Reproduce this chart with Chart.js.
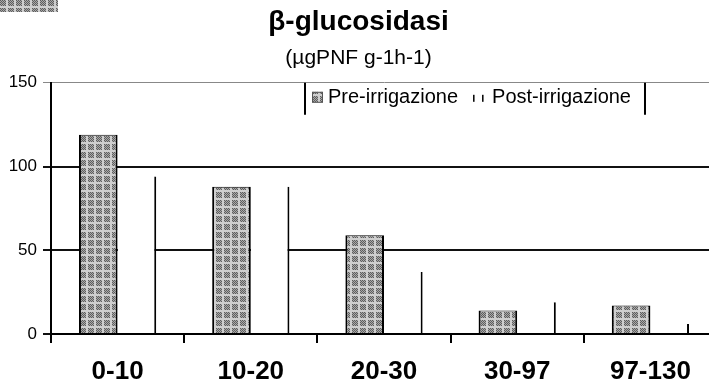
<!DOCTYPE html>
<html>
<head>
<meta charset="utf-8">
<script src="https://cdn.jsdelivr.net/npm/chart.js@4/dist/chart.umd.min.js"></script>
<style>
  html, body { margin: 0; padding: 0; background: #fff; overflow: hidden; }
  #wrap { width: 720px; height: 385px; }
</style>
</head>
<body>
<div id="wrap"><canvas id="chart" width="720" height="385"></canvas></div>
<script>
// dati
var categories = ["0-10", "10-20", "20-30", "30-97", "97-130"];
var preIrrigazione = [119, 88, 59, 14, 17];
var postIrrigazione = [94, 88, 37, 19, 6];
var yTicks = [0, 50, 100, 150];

var FONT = "'Liberation Sans', Arial, sans-serif";

// retino grigio tipo stampa
function makeStipple(ctx) {
  var c = document.createElement("canvas");
  c.width = 8;
  c.height = 8;
  var g = c.getContext("2d");
  g.fillStyle = "#a9a9a9";
  g.fillRect(0, 0, 8, 8);
  g.fillStyle = "#5e5e5e";
  for (var y = 0; y < 8; y++) {
    for (var x = 0; x < 8; x++) {
      if ((x + y) % 2 === 0 && x < 6 && y < 6) g.fillRect(x, y, 1, 1);
    }
  }
  g.fillStyle = "#cfcfcf";
  g.fillRect(6, 0, 2, 8);
  g.fillRect(0, 6, 8, 2);
  return ctx.createPattern(c, "repeat");
}

(function () {
  var canvas = document.getElementById("chart");
  var stipple = makeStipple(canvas.getContext("2d"));

  var legendBox = {
    id: "legendBox",
    afterDraw: function (chart) {
      var ctx = chart.ctx;
      var ds = chart.data.datasets;
      var top = chart.chartArea.top;
      ctx.save();
      ctx.font = "20px " + FONT;
      ctx.textBaseline = "middle";
      ctx.fillStyle = "#000";

      var x0 = 305;
      var midY = top + 15;
      // campione Pre
      ctx.fillStyle = stipple;
      ctx.fillRect(x0 + 7, midY - 6, 11, 11);
      ctx.strokeStyle = "#555";
      ctx.lineWidth = 1;
      ctx.strokeRect(x0 + 7.5, midY - 5.5, 10, 10);
      ctx.fillStyle = "#000";
      var tx = x0 + 23;
      ctx.fillText(ds[0].label, tx, midY);
      tx += ctx.measureText(ds[0].label).width + 15;
      // campione Post
      ctx.fillStyle = "#000";
      ctx.fillRect(tx, midY - 3, 1.5, 7);
      ctx.fillRect(tx + 9, midY - 3, 1.5, 7);
      tx += 19;
      ctx.fillText(ds[1].label, tx, midY);
      var x1 = tx + ctx.measureText(ds[1].label).width + 14;

      ctx.strokeStyle = "#000";
      ctx.lineWidth = 2;
      ctx.beginPath();
      ctx.moveTo(x0, top);
      ctx.lineTo(x0, top + 32);
      ctx.moveTo(x1, top);
      ctx.lineTo(x1, top + 32);
      ctx.stroke();

      // frammento grigio in alto a sinistra
      ctx.fillStyle = stipple;
      ctx.fillRect(0, 0, 58, 12);
      ctx.restore();
    },
  };

  new Chart(canvas, {
    type: "bar",
    data: {
      labels: categories,
      datasets: [
        {
          label: "Pre-irrigazione",
          data: preIrrigazione,
          backgroundColor: stipple,
          borderColor: "#000",
          borderWidth: { left: 2, right: 2, top: 1, bottom: 0 },
          categoryPercentage: 0.58,
          barPercentage: 1,
        },
        {
          label: "Post-irrigazione",
          data: postIrrigazione,
          backgroundColor: "#fff",
          borderColor: "#000",
          borderWidth: { left: 0, right: 2, top: 0, bottom: 0 },
          categoryPercentage: 0.58,
          barPercentage: 1,
        },
      ],
    },
    options: {
      responsive: false,
      animation: false,
      devicePixelRatio: 1,
      layout: { padding: { left: 0, right: 3, top: 0, bottom: 0 } },
      plugins: {
        legend: { display: false },
        tooltip: { enabled: false },
        title: {
          display: true,
          text: "\u03b2-glucosidasi",
          color: "#000",
          font: { family: FONT, size: 28, weight: "bold", lineHeight: 1.2 },
          padding: { top: 5, bottom: 0 },
        },
        subtitle: {
          display: true,
          text: "(\u00b5gPNF g-1h-1)",
          color: "#000",
          font: { family: FONT, size: 21, lineHeight: 1.2 },
          padding: { top: 7, bottom: 12 },
        },
      },
      scales: {
        x: {
          afterFit: function (s) { s.height = 51; },
          grid: {
            offset: true,
            drawOnChartArea: false,
            drawTicks: true,
            tickLength: 9,
            color: "#000",
            lineWidth: 2,
          },
          border: { display: true, color: "#000", width: 2 },
          ticks: {
            color: "#000",
            padding: 13,
            font: { family: FONT, size: 26, weight: "bold" },
          },
        },
        y: {
          min: 0,
          max: 150,
          afterFit: function (s) { s.width = 51; },
          afterBuildTicks: function (s) {
            s.ticks = yTicks.map(function (v) { return { value: v }; });
          },
          grid: {
            tickLength: 8,
            color: function (c) { return c.tick && c.tick.value === 150 ? "#888" : "#111"; },
            lineWidth: function (c) { return c.tick && c.tick.value === 150 ? 1 : 2; },
          },
          border: { display: true, color: "#000", width: 2 },
          ticks: {
            color: "#000",
            padding: 6,
            font: { family: FONT, size: 17 },
          },
        },
      },
    },
    plugins: [legendBox],
  });
})();
</script>
</body>
</html>
